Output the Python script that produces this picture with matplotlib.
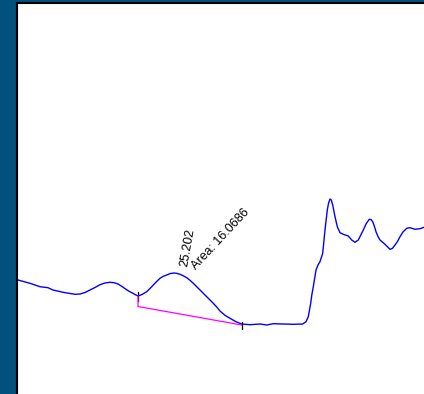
import matplotlib
matplotlib.use("Agg")
import matplotlib.pyplot as plt

# Chromatogram trace: retention time (min) and detector signal (mAU)
time_min = [22.082, 22.322, 22.522, 22.682, 22.782, 22.982, 23.222, 23.322, 23.422, 23.522,
            23.622, 23.722, 23.822, 23.922, 24.002, 24.082, 24.162, 24.262, 24.322, 24.382,
            24.422, 24.482, 24.562, 24.656, 24.722, 24.788, 24.856, 24.922, 24.988, 25.056,
            25.122, 25.202, 25.262, 25.322, 25.388, 25.456, 25.522, 25.588, 25.656, 25.722,
            25.788, 25.856, 25.922, 25.988, 26.056, 26.122, 26.222, 26.322, 26.442, 26.556,
            26.722, 26.922, 27.056, 27.188, 27.388, 27.588, 27.776, 27.842, 27.888, 27.936,
            27.958, 27.988, 28.042, 28.082, 28.122, 28.176, 28.222, 28.268, 28.294, 28.322,
            28.348, 28.376, 28.422, 28.468, 28.522, 28.588, 28.688, 28.756, 28.822, 28.888,
            28.988, 29.042, 29.108, 29.142, 29.176, 29.208, 29.242, 29.282, 29.322, 29.422,
            29.522, 29.572, 29.622, 29.672, 29.722, 29.782, 29.856, 29.922, 30.022, 30.122,
            30.202]
signal = [4.50, 4.17, 3.83, 3.73, 3.50, 3.27, 3.07, 3.10, 3.25, 3.50,
          3.75, 4.03, 4.20, 4.27, 4.23, 4.10, 3.85, 3.50, 3.32, 3.17,
          3.05, 2.90, 3.05, 3.33, 3.65, 4.00, 4.35, 4.67, 4.87, 5.00,
          5.14, 5.20, 5.16, 5.07, 4.92, 4.73, 4.47, 4.17, 3.83, 3.50,
          3.17, 2.83, 2.50, 2.17, 1.80, 1.40, 0.97, 0.67, 0.33, 0.10,
          0.03, 0.10, 0.00, 0.13, 0.10, 0.07, 0.10, 0.33, 0.83, 2.17,
          3.00, 3.83, 5.50, 6.00, 6.33, 7.17, 9.50, 11.50, 12.20, 12.60,
          12.50, 12.00, 10.83, 9.83, 9.23, 9.07, 8.90, 8.50, 8.27, 8.50,
          9.50, 10.10, 10.57, 10.55, 10.33, 9.90, 9.33, 8.85, 8.50, 8.07,
          7.57, 7.67, 8.00, 8.35, 8.83, 9.30, 9.67, 9.73, 9.57, 9.63,
          9.77]

# Integrated peak
peak_rt = 25.202
peak_area = 16.0686
peak_start = (24.482, 2.90)      # start on the trace
baseline_start = (24.482, 1.85)  # baseline drop point
peak_end = (26.556, 0.00)

BG = "#02507C"
fig = plt.figure(figsize=(4.24, 3.94), dpi=100, facecolor=BG)

# Plot area: only its left and top frame edges fall inside the figure
ax = fig.add_axes([17 / 424, -0.05, 1.0, 1.05 - 3 / 394])
ax.set_facecolor("white")
for side in ("right", "bottom"):
    ax.spines[side].set_visible(False)
for side in ("left", "top"):
    ax.spines[side].set_color("black")
    ax.spines[side].set_linewidth(1.5)
ax.set_xticks([])
ax.set_yticks([])

px_min = 0.02   # minutes per pixel
px_sig = 0.1    # mAU per pixel
ax.set_xlim(25.202 - 157 * px_min, 25.202 + 267 * px_min)
ax.set_ylim((325 - 413.7) * px_sig, (325 - 3) * px_sig)

ax.plot(time_min, signal, color="#0000FF", linewidth=1.0,
        solid_joinstyle="round", antialiased=True)

# Baseline of the integrated peak
ax.plot([peak_start[0], baseline_start[0], peak_end[0]],
        [peak_start[1], baseline_start[1], peak_end[1]],
        color="#FF00FF", linewidth=0.9, zorder=3)

# Start / end tick marks
ax.plot([peak_start[0], peak_start[0]], [peak_start[1] + 0.45, peak_start[1] - 0.45],
        color="black", linewidth=0.9, zorder=2)
ax.plot([peak_end[0], peak_end[0]], [peak_end[1] + 0.3, peak_end[1] - 0.4],
        color="black", linewidth=0.9, zorder=4)

ax.text(25.462, 5.8, f"{peak_rt:.3f}", rotation=80, rotation_mode="anchor",
        ha="left", va="baseline", fontsize=9, family="Liberation Sans")
ax.text(25.632, 5.45, f"Area: {peak_area:.4f}", rotation=47, rotation_mode="anchor",
        ha="left", va="baseline", fontsize=9, family="Liberation Sans")

fig.savefig("out.png", dpi=100, facecolor=BG)
